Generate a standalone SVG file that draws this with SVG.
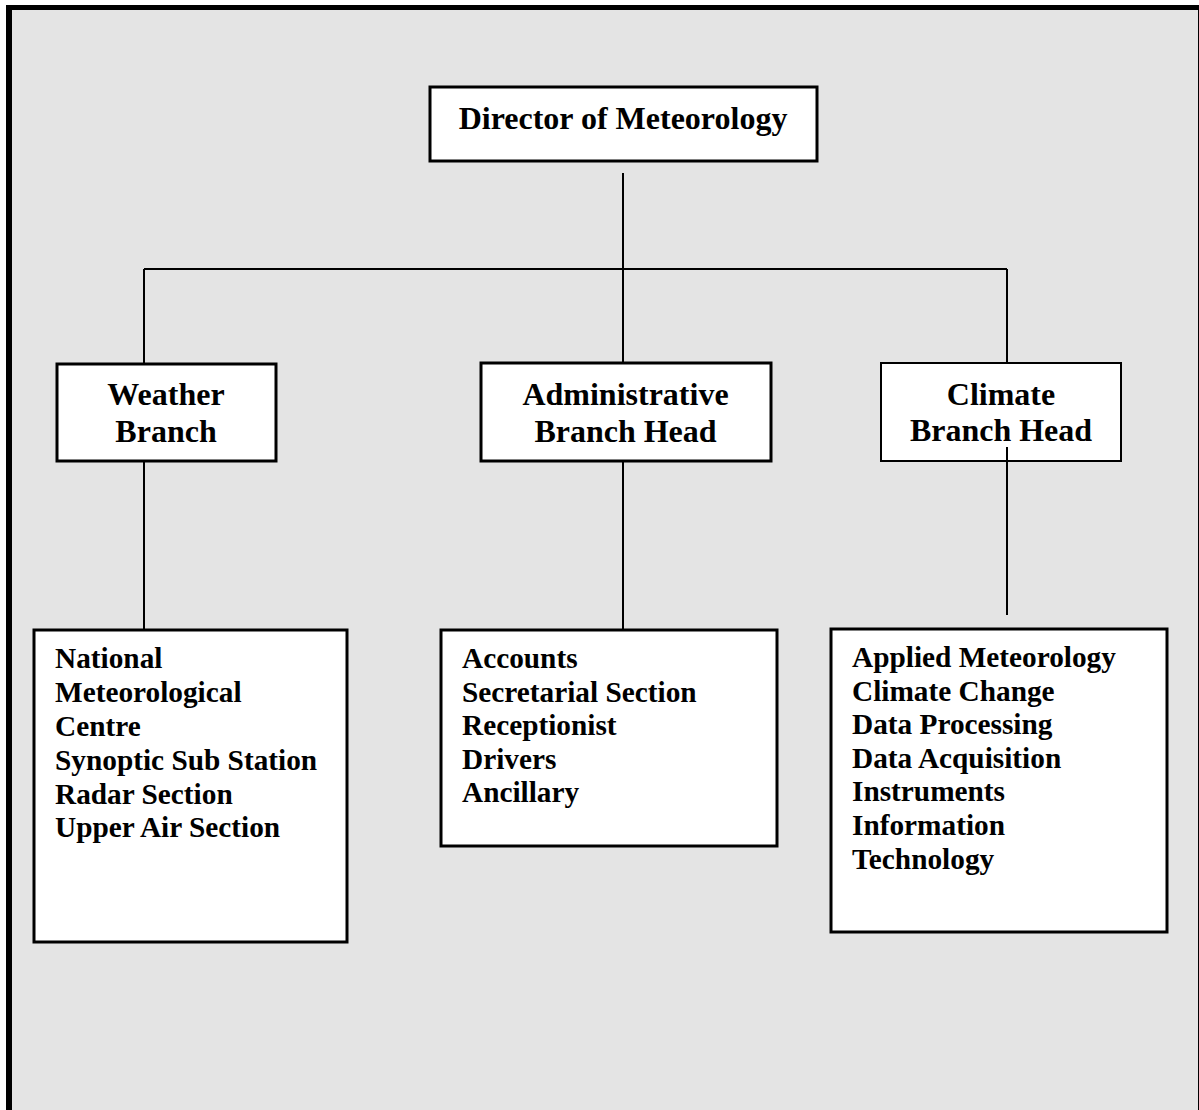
<svg xmlns="http://www.w3.org/2000/svg" width="1199" height="1110" viewBox="0 0 1199 1110">
<style>
.box{fill:#ffffff;stroke:#000000;stroke-width:3}
.thin{stroke-width:2}
.conn{stroke:#000000;stroke-width:2;fill:none}
.hd{font-family:"Liberation Serif","Times New Roman",serif;font-weight:bold;font-size:32px;fill:#000000;text-anchor:middle}
.li{font-family:"Liberation Serif","Times New Roman",serif;font-weight:bold;font-size:29.3px;fill:#000000}
</style>
<rect x="0" y="0" width="1199" height="1110" fill="#ffffff"/>
<rect x="6" y="5" width="1193" height="1105" fill="#000000"/>
<rect x="12" y="10" width="1186" height="1100" fill="#e4e4e4"/>
<g id="connectors">
<line class="conn" x1="623" y1="173" x2="623" y2="269"/>
<line class="conn" x1="144" y1="269" x2="1007" y2="269"/>
<line class="conn" x1="144" y1="269" x2="144" y2="364"/>
<line class="conn" x1="623" y1="269" x2="623" y2="363"/>
<line class="conn" x1="1007" y1="269" x2="1007" y2="364"/>
<line class="conn" x1="144" y1="461" x2="144" y2="630"/>
<line class="conn" x1="623" y1="461" x2="623" y2="630"/>
</g>
<g id="director">
<rect class="box" x="430" y="87" width="387" height="74"/>
<text class="hd" x="623" y="129">Director of Meteorology</text>
</g>
<g id="weather">
<rect class="box" x="57" y="364" width="219" height="97"/>
<text class="hd" x="166" y="405">Weather</text>
<text class="hd" x="166" y="442">Branch</text>
</g>
<g id="admin">
<rect class="box" x="481" y="363" width="290" height="98"/>
<text class="hd" x="625.5" y="405">Administrative</text>
<text class="hd" x="625.5" y="442">Branch Head</text>
</g>
<g id="climate">
<rect class="box thin" x="881" y="363" width="240" height="98"/>
<text class="hd" x="1001" y="405">Climate</text>
<text class="hd" x="1001" y="441">Branch Head</text>
<line class="conn" x1="1007" y1="447" x2="1007" y2="615"/>
</g>
<g id="weather-units">
<rect class="box" x="34" y="630" width="313" height="312"/>
<text class="li" x="55" y="668">National</text>
<text class="li" x="55" y="702">Meteorological</text>
<text class="li" x="55" y="736">Centre</text>
<text class="li" x="55" y="770">Synoptic Sub Station</text>
<text class="li" x="55" y="803.5">Radar Section</text>
<text class="li" x="55" y="837">Upper Air Section</text>
</g>
<g id="admin-units">
<rect class="box" x="441" y="630" width="336" height="216"/>
<text class="li" x="462" y="668">Accounts</text>
<text class="li" x="462" y="701.5">Secretarial Section</text>
<text class="li" x="462" y="735">Receptionist</text>
<text class="li" x="462" y="768.5">Drivers</text>
<text class="li" x="462" y="802">Ancillary</text>
</g>
<g id="climate-units">
<rect class="box" x="831" y="629" width="336" height="303"/>
<text class="li" x="852" y="667">Applied Meteorology</text>
<text class="li" x="852" y="700.5">Climate Change</text>
<text class="li" x="852" y="734">Data Processing</text>
<text class="li" x="852" y="767.5">Data Acquisition</text>
<text class="li" x="852" y="801">Instruments</text>
<text class="li" x="852" y="835">Information</text>
<text class="li" x="852" y="869">Technology</text>
</g>
</svg>
